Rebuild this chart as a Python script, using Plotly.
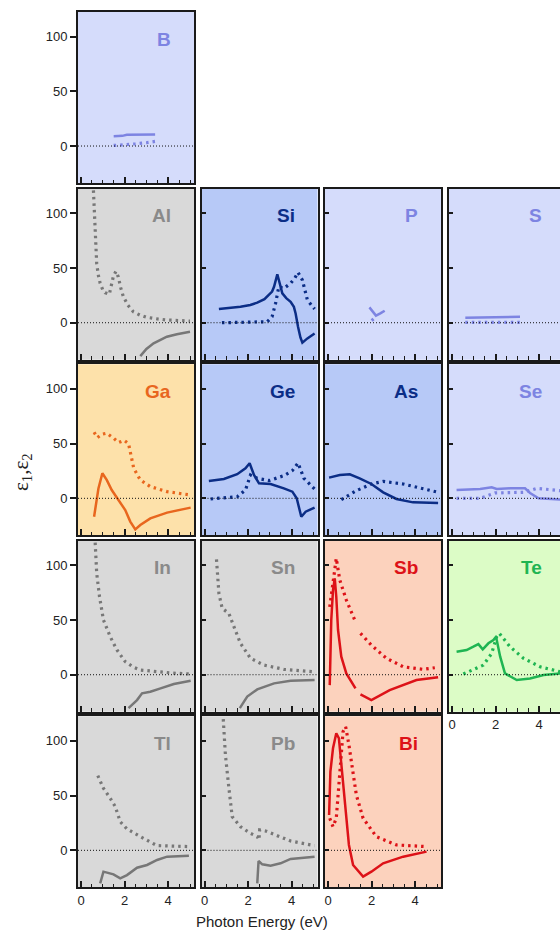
import plotly.graph_objects as go

# ---------------- data (photon energy in eV, dielectric function) ----------------
b_e1_E = [1.5, 1.9, 2.1, 2.6, 3.4]
b_e1 = [9.0, 9.3, 10.2, 10.4, 10.6]
b_e2_E = [1.5, 2.0, 2.5, 3.0, 3.4]
b_e2 = [0.5, 1.0, 2.0, 3.0, 4.2]

al_e1_E = [2.72, 3.0, 3.33, 3.65, 3.94, 4.4, 5.0]
al_e1 = [-30.5, -24.0, -18.8, -15.5, -12.8, -10.5, -8.2]
al_e2_E = [0.57, 0.65, 0.72, 0.8, 0.88, 1.0, 1.1, 1.3, 1.4, 1.48, 1.6, 1.71, 1.82, 1.94, 2.15, 2.4, 2.7, 3.0, 3.5, 3.94, 4.5, 5.0]
al_e2 = [121, 84.7, 54, 43, 36, 30, 27.4, 26, 34, 42, 47, 42, 32, 24, 16, 10, 7, 5, 3.5, 2.5, 2.0, 1.5]

si_e1_E = [0.66, 1.2, 1.65, 2.1, 2.42, 2.75, 2.96, 3.1, 3.19, 3.34, 3.41, 3.57, 3.75, 3.95, 4.1, 4.18, 4.29, 4.4, 4.49, 4.6, 4.72, 5.05]
si_e1 = [12.5, 13.3, 14.6, 16.2, 18.3, 21.5, 25.3, 28.5, 32.9, 44.2, 39.0, 26.8, 22.5, 19.2, 14.5, 8.5, -3.7, -13.5, -18.3, -16.5, -14.3, -9.8]
si_e2_E = [0.8, 1.5, 2.3, 2.88, 3.1, 3.26, 3.41, 3.64, 3.95, 4.15, 4.29, 4.49, 4.72, 5.05]
si_e2 = [0.0, 0.2, 0.5, 0.9, 5.5, 17.7, 33.0, 31.4, 36.0, 41.0, 46.0, 39.0, 20.7, 12.5]

p_e1_E = [1.9, 2.05, 2.2, 2.4, 2.6]
p_e1 = [14.0, 10.0, 6.5, 8.5, 11.0]
p_e2_E = [2.0, 2.1]
p_e2 = [2.0, 3.5]

s_e1_E = [0.61, 1.5, 2.3, 3.0, 3.12]
s_e1 = [4.6, 4.7, 4.8, 5.0, 5.5]
s_e2_E = [0.61, 1.5, 2.3, 3.12]
s_e2 = [0.3, 0.3, 0.3, 0.3]

ga_e1_E = [0.6, 0.8, 0.98, 1.18, 1.41, 1.72, 2.03, 2.26, 2.49, 2.72, 3.18, 3.95, 5.03]
ga_e1 = [-16.8, 9.0, 22.9, 16.8, 7.6, -1.5, -10.7, -21.3, -28.4, -24.4, -18.3, -13.1, -8.5]
ga_e2_E = [0.6, 0.75, 0.95, 1.18, 1.49, 1.72, 1.98, 2.18, 2.29, 2.42, 2.72, 3.18, 3.95, 5.03]
ga_e2 = [60.4, 55.5, 58.5, 59.5, 55.0, 51.0, 53.0, 50.0, 39.6, 27.4, 16.8, 10.7, 6.1, 3.0]

ge_e1_E = [0.2, 0.89, 1.5, 1.88, 2.07, 2.27, 2.5, 2.75, 3.03, 3.64, 4.03, 4.23, 4.44, 4.64, 5.05]
ge_e1 = [15.9, 17.7, 22.0, 27.4, 32.0, 21.3, 13.7, 13.5, 13.1, 9.1, 6.1, 0.0, -16.8, -12.2, -8.5]
ge_e2_E = [0.28, 1.0, 1.5, 1.88, 2.11, 2.42, 2.96, 3.64, 4.03, 4.29, 4.56, 5.05]
ge_e2 = [-0.6, 0.3, 1.5, 7.6, 21.3, 18.3, 16.2, 20.7, 25.3, 32.3, 18.3, 8.5]

as_e1_E = [0.05, 0.54, 1.0, 1.45, 1.99, 2.53, 3.14, 3.9, 5.05]
as_e1 = [18.9, 21.3, 22.0, 18.3, 13.1, 5.5, -0.6, -3.7, -4.3]
as_e2_E = [0.61, 1.3, 1.99, 2.53, 3.45, 5.05]
as_e2 = [-1.2, 7.0, 13.1, 15.5, 13.1, 5.5]

se_e1_E = [0.21, 1.29, 1.82, 2.05, 2.66, 3.35, 3.58, 3.97, 4.96]
se_e1 = [7.6, 8.5, 10.0, 8.5, 9.1, 9.1, 4.9, 0.0, -1.2]
se_e2_E = [0.21, 1.29, 1.98, 3.28, 3.89, 4.96]
se_e2 = [0.0, 0.0, 4.9, 5.5, 9.1, 7.0]

in_e1_E = [2.18, 2.57, 2.8, 3.18, 3.65, 4.26, 5.03]
in_e1 = [-30.5, -23.2, -17.0, -15.5, -12.5, -8.5, -5.5]
in_e2_E = [0.65, 0.72, 0.85, 1.03, 1.34, 1.65, 2.03, 2.4, 2.72, 3.49, 4.2, 5.03]
in_e2 = [120.7, 92.7, 71.3, 50.0, 34.8, 22.6, 11.9, 7.0, 4.3, 2.7, 1.5, 0.6]

sn_e1_E = [1.62, 1.96, 2.42, 3.19, 3.95, 5.05]
sn_e1 = [-30.5, -20.0, -13.4, -7.9, -5.5, -4.9]
sn_e2_E = [0.55, 0.66, 0.81, 1.12, 1.35, 1.65, 2.11, 2.73, 3.64, 5.05]
sn_e2 = [105.5, 74.4, 60.7, 56.0, 43.9, 28.7, 15.0, 8.8, 4.9, 2.7]

sb_e1_E = [0.08, 0.15, 0.23, 0.31, 0.38, 0.46, 0.61, 0.84, 1.26, None, 1.49, 1.99, 2.83, 4.06, 5.05]
sb_e1 = [-9.5, 50.0, 77.4, 88.0, 71.3, 40.9, 16.5, 1.2, -12.5, None, -18.0, -23.2, -14.0, -4.9, -2.4]
sb_e2_E = [0.08, 0.23, 0.38, 0.54, 0.84, 1.26, None, 1.49, 1.99, 2.68, 3.45, 4.36, 4.9]
sb_e2 = [62.0, 86.6, 106.4, 86.6, 68.3, 48.5, None, 37.8, 27.0, 15.0, 7.3, 4.9, 6.4]

te_e1_E = [0.21, 0.67, 0.98, 1.21, 1.41, 1.67, 1.9, 2.02, 2.21, 2.43, 2.97, 3.58, 4.2, 4.96]
te_e1 = [21.0, 22.6, 25.6, 28.0, 23.2, 28.7, 31.7, 34.8, 16.5, 1.2, -4.9, -3.4, -0.3, 1.2]
te_e2_E = [0.52, 0.98, 1.44, 1.82, 2.05, 2.17, 2.66, 3.28, 4.04, 4.96]
te_e2 = [0.6, 4.9, 8.8, 19.5, 34.8, 37.8, 25.6, 15.0, 7.3, 2.7]

tl_e1_E = [0.88, 1.03, 1.49, 1.8, 2.11, 2.57, 3.03, 3.49, 3.95, 4.95]
tl_e1 = [-30.2, -19.5, -22.0, -25.6, -22.6, -15.9, -13.4, -8.8, -5.8, -4.9]
tl_e2_E = [0.77, 1.03, 1.34, 1.57, 1.8, 2.11, 2.72, 3.49, 4.95]
tl_e2 = [68.3, 56.7, 47.6, 40.0, 26.2, 19.5, 12.5, 4.3, 3.4]

pb_e1_E = [2.42, 2.48, 2.65, 3.03, 3.49, 3.95, 5.05]
pb_e1 = [-30.2, -9.8, -12.8, -14.0, -11.9, -7.9, -5.8]
pb_e2_E = [0.86, 0.96, 1.12, 1.27, 1.65, 2.11, 2.42, 2.5, 2.53, 2.8, 3.34, 3.95, 5.05]
pb_e2 = [120.0, 87.0, 56.7, 30.8, 21.6, 15.5, 12.5, 9.5, 18.6, 17.7, 13.4, 8.5, 4.3]

bi_e1_E = [0.05, 0.11, 0.23, 0.38, 0.5, 0.61, 0.77, 0.96, 1.15, 1.61, 1.99, 2.53, 3.45, 4.52]
bi_e1 = [32.3, 72.0, 93.3, 107.0, 102.4, 78.0, 41.5, 4.9, -13.4, -24.0, -19.5, -11.9, -5.8, -1.2]
bi_e2_E = [0.08, 0.23, 0.38, 0.54, 0.69, 0.81, 0.96, 1.3, 1.61, 2.22, 3.14, 4.52]
bi_e2 = [29.3, 21.6, 29.3, 65.9, 108.5, 113.0, 96.3, 50.6, 29.3, 12.5, 4.9, 3.4]

y_ticks = [0, 50, 100]
y_tick_text = ["0", "50", "100"]
x_ticks = [0, 2, 4]

# ---------------- styles ----------------
LAV_BG, LAV_LN = "#d5dcfb", "#7d84e2"
GRY_BG, GRY_LN, GRY_TX = "#d9d9d9", "#777777", "#8a8a8a"
BLU_BG, BLU_LN = "#b7c9f7", "#0b2d86"
ORG_BG, ORG_LN = "#fde1aa", "#e8661e"
RED_BG, RED_LN = "#fcd2bd", "#dd1218"
GRN_BG, GRN_LN = "#dcfcc6", "#1fb552"

panels = [
    ("B", 0, 0, LAV_BG, LAV_LN, LAV_LN, b_e1_E, b_e1, b_e2_E, b_e2, False),
    ("Al", 1, 0, GRY_BG, GRY_LN, GRY_TX, al_e1_E, al_e1, al_e2_E, al_e2, False),
    ("Si", 1, 1, BLU_BG, BLU_LN, BLU_LN, si_e1_E, si_e1, si_e2_E, si_e2, False),
    ("P", 1, 2, LAV_BG, LAV_LN, LAV_LN, p_e1_E, p_e1, p_e2_E, p_e2, False),
    ("S", 1, 3, LAV_BG, LAV_LN, LAV_LN, s_e1_E, s_e1, s_e2_E, s_e2, False),
    ("Ga", 2, 0, ORG_BG, ORG_LN, ORG_LN, ga_e1_E, ga_e1, ga_e2_E, ga_e2, False),
    ("Ge", 2, 1, BLU_BG, BLU_LN, BLU_LN, ge_e1_E, ge_e1, ge_e2_E, ge_e2, False),
    ("As", 2, 2, BLU_BG, BLU_LN, BLU_LN, as_e1_E, as_e1, as_e2_E, as_e2, False),
    ("Se", 2, 3, LAV_BG, LAV_LN, LAV_LN, se_e1_E, se_e1, se_e2_E, se_e2, False),
    ("In", 3, 0, GRY_BG, GRY_LN, GRY_TX, in_e1_E, in_e1, in_e2_E, in_e2, False),
    ("Sn", 3, 1, GRY_BG, GRY_LN, GRY_TX, sn_e1_E, sn_e1, sn_e2_E, sn_e2, False),
    ("Sb", 3, 2, RED_BG, RED_LN, RED_LN, sb_e1_E, sb_e1, sb_e2_E, sb_e2, False),
    ("Te", 3, 3, GRN_BG, GRN_LN, GRN_LN, te_e1_E, te_e1, te_e2_E, te_e2, True),
    ("Tl", 4, 0, GRY_BG, GRY_LN, GRY_TX, tl_e1_E, tl_e1, tl_e2_E, tl_e2, True),
    ("Pb", 4, 1, GRY_BG, GRY_LN, GRY_TX, pb_e1_E, pb_e1, pb_e2_E, pb_e2, True),
    ("Bi", 4, 2, RED_BG, RED_LN, RED_LN, bi_e1_E, bi_e1, bi_e2_E, bi_e2, True),
]

W, H = 560, 940
col_left = [78, 201.5, 325, 449]
panel_w = 116
row_zero = [146, 322.7, 498.3, 674.7, 850.3]
PX_PER_EV = 21.8
Y_RANGE = [-33.8, 122.5]

fig = go.Figure()
layout = dict(
    width=W, height=H, margin=dict(l=0, r=0, t=0, b=0),
    paper_bgcolor="white", plot_bgcolor="rgba(0,0,0,0)",
    showlegend=False, shapes=[], annotations=[],
    font=dict(family="Liberation Sans, Arial, sans-serif", size=13, color="#222222"),
)

for i, (name, r, c, bg, ln, tx, x1, y1, x2, y2, xlab) in enumerate(panels, start=1):
    left = col_left[c]
    right = min(left + panel_w, W)
    top = row_zero[r] - 134
    bottom = row_zero[r] + 37
    x0px = left + 3
    xr = [(left - x0px) / PX_PER_EV, (right - x0px) / PX_PER_EV]
    xs = "" if i == 1 else str(i)
    xa, ya = "x" + xs, "y" + xs
    layout["xaxis" + xs] = dict(
        domain=[left / W, right / W], range=xr, anchor=ya,
        tickmode="array", tickvals=x_ticks, ticks="inside", ticklen=6, tickwidth=1.6,
        tickcolor="#1a1a1a", minor=dict(dtick=0.5, tick0=0, ticks="inside", ticklen=3.5,
                                        tickwidth=1.2, tickcolor="#1a1a1a"),
        showticklabels=xlab, showline=True, mirror=True, linecolor="#1a1a1a",
        linewidth=2, showgrid=False, zeroline=False, fixedrange=True,
        tickfont=dict(size=13, color="#222"),
    )
    layout["yaxis" + xs] = dict(
        domain=[1 - bottom / H, 1 - top / H], range=Y_RANGE, anchor=xa,
        tickmode="array", tickvals=y_ticks, ticktext=y_tick_text,
        ticks="outside" if c == 0 else "inside", ticklen=6 if c == 0 else 4,
        tickwidth=1.6, tickcolor="#1a1a1a",
        showticklabels=(c == 0), showline=True, mirror=(c != 3), linecolor="#1a1a1a",
        linewidth=2, showgrid=False, zeroline=False, fixedrange=True,
        tickfont=dict(size=13, color="#222"),
    )
    layout["shapes"].append(dict(type="rect", xref=xa + " domain", yref=ya + " domain",
                                 x0=0, x1=1, y0=0, y1=1, fillcolor=bg,
                                 line=dict(width=0), layer="below"))
    layout["shapes"].append(dict(type="line", xref=xa + " domain", yref=ya,
                                 x0=0, x1=1, y0=0, y1=0,
                                 line=dict(color="#111", width=1, dash="1px,2px"),
                                 layer="above"))
    fig.add_trace(go.Scatter(x=x2, y=y2, xaxis=xa, yaxis=ya, mode="lines",
                             line=dict(color=ln, width=3.2, dash="2.5px,4px"),
                             connectgaps=False, hoverinfo="skip"))
    fig.add_trace(go.Scatter(x=x1, y=y1, xaxis=xa, yaxis=ya, mode="lines",
                             line=dict(color=ln, width=2.5),
                             connectgaps=False, hoverinfo="skip"))
    layout["annotations"].append(dict(
        text="<b>" + name + "</b>", xref="paper", yref="paper",
        x=(left + panel_w - 21) / W, y=1 - (top + 27) / H,
        xanchor="right", yanchor="middle", showarrow=False,
        font=dict(size=19, color=tx, family="Liberation Sans, Arial, sans-serif")))

layout["annotations"].append(dict(
    text="Photon Energy (eV)", xref="paper", yref="paper", x=262 / W, y=1 - 921 / H,
    xanchor="center", yanchor="middle", showarrow=False,
    font=dict(size=15, color="#222")))
layout["annotations"].append(dict(
    text="ε<sub>1</sub>,ε<sub>2</sub>", xref="paper", yref="paper", x=22 / W, y=1 - 472 / H,
    xanchor="center", yanchor="middle", showarrow=False, textangle=-90,
    font=dict(size=21, color="#222", family="Liberation Serif, Times New Roman, serif")))

fig.update_layout(**layout)
fig.write_html("out.html", config={"displayModeBar": False})
